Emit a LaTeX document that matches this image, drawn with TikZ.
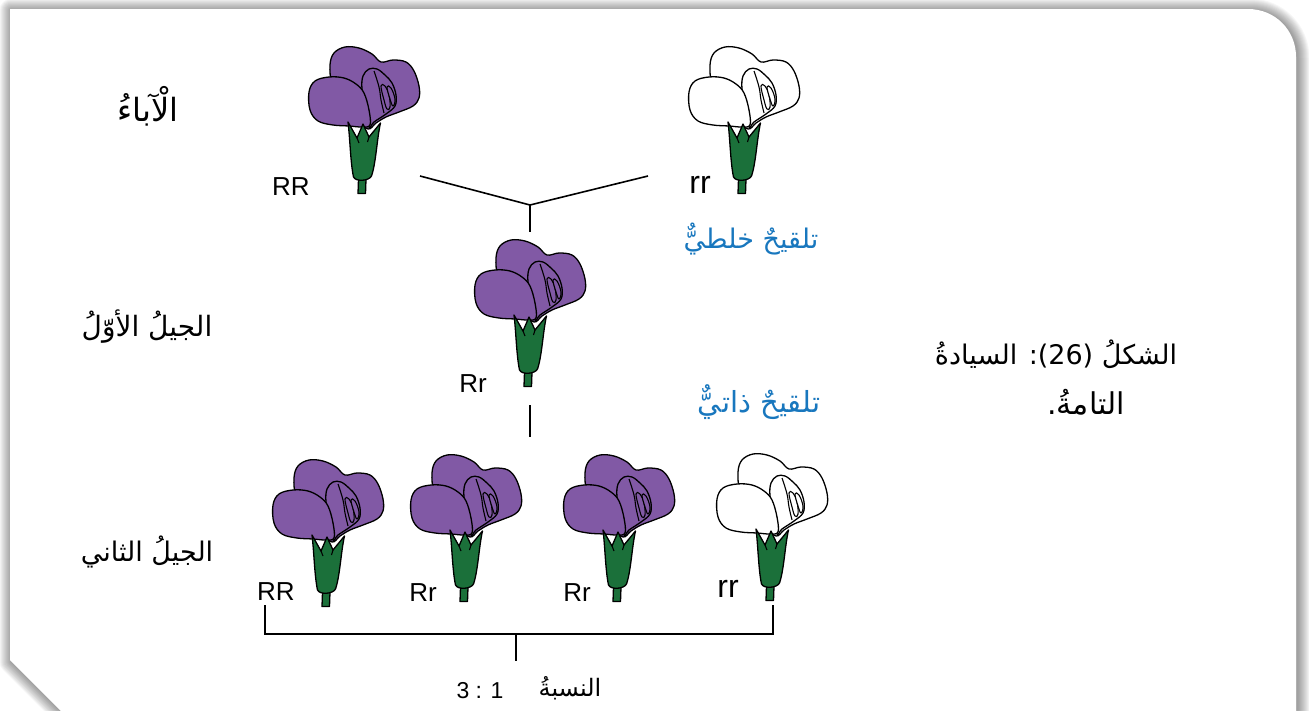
\documentclass[tikz,border=0pt]{standalone}
\usepackage{fontspec}
\setmainfont{Liberation Sans}
\newfontfamily\arabicfont[Script=Arabic]{DejaVu Sans}
\TeXXeTstate=1
\definecolor{petalpurple}{RGB}{129,89,165}
\definecolor{calyxgreen}{RGB}{27,112,58}
\definecolor{labelblue}{RGB}{24,119,190}
\begin{document}
\begin{tikzpicture}[x=1pt,y=-1pt,
  outline/.style={draw=black, line width=1.3pt, line join=round},
  innerline/.style={draw=black, line width=1.1pt, line join=round},
  arab/.style={font=\arabicfont\fontsize{27}{32}\selectfont, inner sep=0pt},
  bluetext/.style={arab, text=labelblue},
  gene/.style={font=\fontsize{26}{30}\selectfont, inner sep=0pt},
  generr/.style={font=\fontsize{32}{36}\selectfont, inner sep=0pt},
  crossline/.style={draw=black, line width=1.6pt},
  bracketline/.style={draw=black, line width=2pt},
  pics/flower/.style={code={
    % standard (back) petal
    \path[outline, fill=#1] plot[smooth cycle, tension=0.6] coordinates {
      (-30,-110) (-32,-128) (-28,-140) (-17,-146) (-3,-145) (10,-139) (19,-131)
      (31,-133) (44,-131) (52,-122) (57,-107) (57,-95) (51,-87) (37,-81)
      (24,-76) (14,-70) (6,-64) (-5,-75) (-20,-100)};
    % keel
    \path[outline, fill=#1] plot[smooth cycle, tension=0.6] coordinates {
      (1,-117) (7,-124) (15,-124) (23,-118) (30,-110) (34,-98) (33,-87)
      (24,-79) (12,-71) (7,-66) (4,-85) (0,-104)};
    \path[innerline] plot[smooth, tension=0.7] coordinates {(12,-122) (17,-106) (19,-93) (22,-80)};
    \path[innerline, fill=#1] plot[smooth cycle, tension=0.7] coordinates {
      (19,-107) (22,-93) (25,-84) (28,-86) (27,-98) (23,-107)};
    \path[innerline, fill=#1] plot[smooth cycle, tension=0.7] coordinates {
      (25,-106) (28,-94) (31,-87) (33,-94) (29,-105)};
    % left wing
    \path[outline, fill=#1] plot[smooth cycle, tension=0.6] coordinates {
      (-33,-116) (-47,-112) (-53,-101) (-52,-83) (-44,-72) (-29,-68) (-13,-67)
      (0,-66) (8,-68) (7,-83) (2,-100) (-6,-109) (-18,-115)};
    % stem
    \path[outline, fill=calyxgreen] (-3.5,-14) -- (-4,0.5) -- (3.5,0.5) -- (4,-14) -- cycle;
    % calyx
    \path[outline, fill=calyxgreen] (-14,-71) -- (-5,-55) -- (1,-69) -- (7,-56)
      -- (18.5,-70)
      .. controls (15,-55) and (14,-30) .. (9.5,-17)
      .. controls (7,-12) and (-6,-11) .. (-8.5,-16)
      .. controls (-11.5,-30) and (-12,-55) .. cycle;
    \path[innerline] (-5,-55) -- (-3,-50);
    \path[innerline] (7,-56) -- (5.5,-51);
  }}
]
\useasboundingbox (0,0) rectangle (1309,710);
\fill[white] (0,0) rectangle (1309,710);
% card shadow
\def\cardpath{(10,9) -- (1248,9) .. controls (1275,9) and (1296,30) .. (1296,57) -- (1296,740) -- (90,740) -- (10,660) -- cycle}
\begin{scope}[shift={(1.5,1.5)}]
\foreach \w in {2,4,...,24} {
  \draw[black, opacity=0.035, line width=\w pt, line join=round] \cardpath;
}
\end{scope}
\fill[white] \cardpath;

% flowers
\pic (P1) at (362,193) {flower=petalpurple};
\pic (P2) at (742,193) {flower=white};
\pic (F1) at (528,386) {flower=petalpurple};
\pic (G1) at (326,606) {flower=petalpurple};
\pic (G2) at (464,601) {flower=petalpurple};
\pic (G3) at (617,601) {flower=petalpurple};
\pic (G4) at (770,600) {flower=white};

% genotype labels
\node[gene] (gRR1) at (291,187) {RR};
\node[generr] (grr1) at (700,185) {rr};
\node[gene] (gRr) at (473,384) {Rr};
\node[gene] (gRR2) at (276,592) {RR};
\node[gene] (gRr2) at (423,593) {Rr};
\node[gene] (gRr3) at (577,593) {Rr};
\node[generr] (grr2) at (728,589) {rr};

% connectors
\coordinate (xL) at (420,176);
\coordinate (xR) at (648,176);
\coordinate (xJ) at (530,205);
\coordinate (xD) at (530,232);
\draw[crossline] (xL) -- (xJ) -- (xR);
\draw[bracketline] (xJ) -- (xD);
\coordinate (sT) at (530,405);
\coordinate (sB) at (530,437);
\draw[bracketline] (sT) -- (sB);
\coordinate (bL) at (265,605);
\coordinate (bR) at (773,605);
\coordinate (bM) at (516,634);
\coordinate (bS) at (516,661);
\draw[bracketline] (bL) |- (bM) -| (bR);
\draw[bracketline] (bM) -- (bS);

% left labels
\node[arab, font=\arabicfont\fontsize{32}{36}\selectfont] (parentsLabel) at (148,106) {\beginR الْآباءُ\endR};
\node[arab, font=\arabicfont\fontsize{28}{32}\selectfont] (f1Label) at (147,327) {\beginR الجيلُ الأوّلُ\endR};
\node[arab] (f2Label) at (147,552) {\beginR الجيلُ الثاني\endR};

% blue labels
\node[bluetext] (crossLabel) at (751,239) {\beginR تلقيحٌ خلطيٌّ\endR};
\node[bluetext, font=\arabicfont\fontsize{29}{33}\selectfont] (selfLabel) at (759,402) {\beginR تلقيحٌ ذاتيٌّ\endR};

% caption
\node[arab] (caption1) at (1056,354) {\beginR الشكلُ (26): السيادةُ\endR};
\node[arab, font=\arabicfont\fontsize{30}{34}\selectfont] (caption2) at (1086,402) {.\beginR التامةُ\endR};

% ratio
\node[gene, font=\fontsize{23}{27}\selectfont] (ratioNum) at (480,691) {3 : 1};
\node[arab, font=\arabicfont\fontsize{24}{28}\selectfont] (ratioWord) at (570,688) {\beginR النسبةُ\endR};
\end{tikzpicture}
\end{document}
